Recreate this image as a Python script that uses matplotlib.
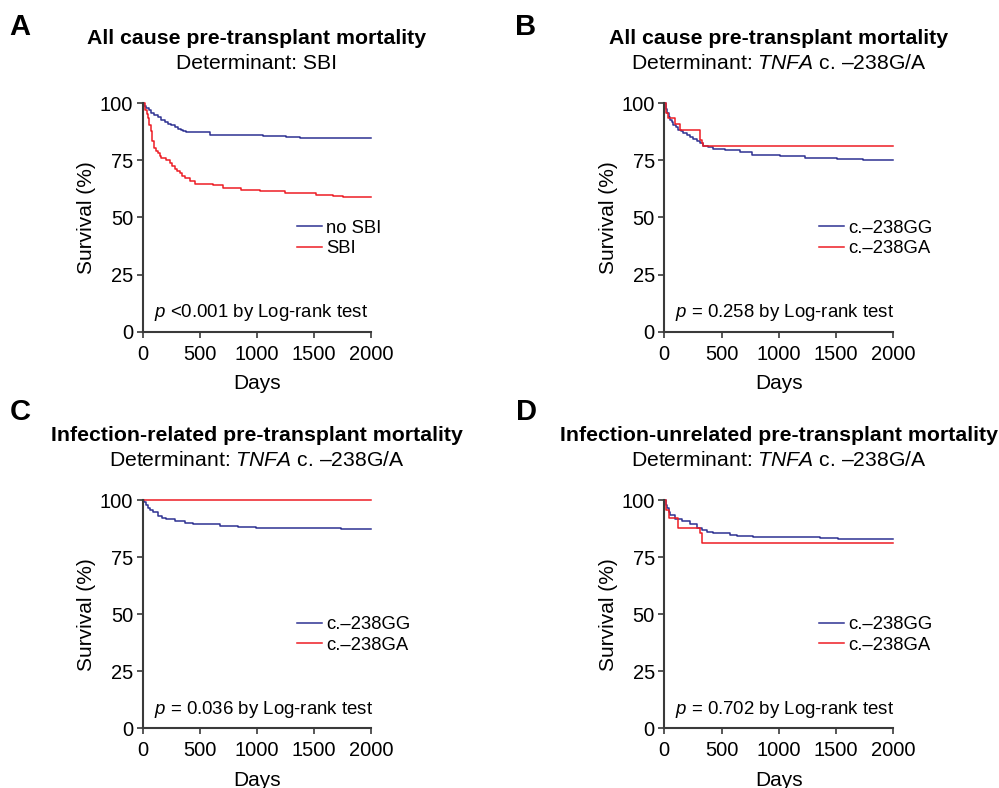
import numpy as np
import matplotlib
matplotlib.use("Agg")
import matplotlib.pyplot as plt

plt.rcParams['font.family'] = ['Liberation Sans', 'DejaVu Sans']
plt.rcParams['mathtext.fontset'] = 'custom'
plt.rcParams['mathtext.rm'] = 'Liberation Sans'
plt.rcParams['mathtext.it'] = 'Liberation Sans:italic'

BLUE = '#2e3192'
RED = '#ed1c24'
AXC = '#3a3a3a'

# --- data (days, survival %) ---
# A: all cause mortality, SBI
a_nosbi_days = [0, 15, 32, 55, 76, 100, 134, 160, 193, 220, 251, 280, 309, 335, 353, 382, 587, 1054, 1258, 1375, 2000]
a_nosbi_surv = [100, 99, 98, 97, 95.8, 95, 93.9, 92.8, 91.8, 91, 90.4, 89.6, 88.9, 88.2, 87.7, 87.3, 86.3, 85.5, 85.1, 84.7, 84.7]
a_sbi_days = [0, 23, 35, 47, 58, 70, 82, 99, 115, 134, 150, 164, 207, 237, 260, 280, 300, 324, 345, 368, 412, 455, 616, 704, 864, 1025, 1244, 1521, 1667, 1755, 2000]
a_sbi_surv = [100, 97, 95.5, 93.6, 90.5, 87.7, 83.4, 80.4, 79.2, 78.2, 77, 76.1, 75.3, 73.9, 72.6, 71.4, 70.5, 69.5, 68.3, 67.3, 66.1, 64.7, 64.1, 62.9, 62.2, 61.5, 60.7, 60.0, 59.6, 58.8, 58.8]

# B: all cause mortality, TNFA c.-238G/A
b_gg_days = [0, 15, 26, 38, 49, 63, 79, 100, 122, 145, 166, 195, 224, 253, 282, 310, 341, 380, 428, 530, 661, 763, 1010, 1229, 1505, 1738, 2000]
b_gg_surv = [100, 97.5, 95.8, 94.2, 92.8, 91.6, 90.7, 89.5, 88.5, 87.7, 87, 86, 85.1, 84.2, 83.4, 82.5, 81.5, 80.8, 80.1, 79.6, 78.7, 77.5, 76.8, 76.1, 75.6, 75.0, 75.0]
b_ga_days = [0, 15, 35, 93, 137, 311, 326, 341, 2000]
b_ga_surv = [100, 95.8, 93.6, 90.9, 88.2, 84.1, 82.6, 81.2, 81.2]

# C: infection-related mortality
c_gg_days = [0, 15, 32, 45, 61, 91, 134, 170, 207, 280, 368, 441, 674, 835, 996, 1635, 1740, 2000]
c_gg_surv = [100, 99, 97.8, 96.6, 95.6, 94.6, 93, 92.2, 91.5, 90.8, 89.8, 89.3, 88.8, 88.3, 87.9, 87.6, 87.3, 87.3]
c_ga_days = [0, 2000]
c_ga_surv = [100, 100]

# D: infection-unrelated mortality
d_gg_days = [0, 15, 26, 38, 49, 93, 151, 224, 282, 326, 370, 428, 574, 632, 777, 1243, 1360, 1520, 2000]
d_gg_surv = [100, 98, 96.4, 94.8, 93.4, 91.7, 90.8, 89.5, 87.9, 86.9, 86.1, 85.4, 84.7, 84.1, 83.8, 83.6, 83.4, 82.8, 82.8]
d_ga_days = [0, 12, 44, 122, 311, 326, 2000]
d_ga_surv = [100, 95.6, 92.0, 87.9, 85.4, 81.0, 81.0]

x_ticks = [0, 500, 1000, 1500, 2000]
y_ticks = [0, 25, 50, 75, 100]

panels = [
    dict(letter='A', title='All cause pre-transplant mortality',
         sub='Determinant: SBI',
         curves=[(a_nosbi_days, a_nosbi_surv, BLUE, 'no SBI'), (a_sbi_days, a_sbi_surv, RED, 'SBI')],
         ptext='$\\it{p}$ <0.001 by Log-rank test', px=0.517),
    dict(letter='B', title='All cause pre-transplant mortality',
         sub='Determinant: $\\it{TNFA}$ c. \u2013238G/A',
         curves=[(b_gg_days, b_gg_surv, BLUE, 'c.\u2013238GG'), (b_ga_days, b_ga_surv, RED, 'c.\u2013238GA')],
         ptext='$\\it{p}$ = 0.258 by Log-rank test', px=0.526),
    dict(letter='C', title='Infection-related pre-transplant mortality',
         sub='Determinant: $\\it{TNFA}$ c. \u2013238G/A',
         curves=[(c_gg_days, c_gg_surv, BLUE, 'c.\u2013238GG'), (c_ga_days, c_ga_surv, RED, 'c.\u2013238GA')],
         ptext='$\\it{p}$ = 0.036 by Log-rank test', px=0.528),
    dict(letter='D', title='Infection-unrelated pre-transplant mortality',
         sub='Determinant: $\\it{TNFA}$ c. \u2013238G/A',
         curves=[(d_gg_days, d_gg_surv, BLUE, 'c.\u2013238GG'), (d_ga_days, d_ga_surv, RED, 'c.\u2013238GA')],
         ptext='$\\it{p}$ = 0.702 by Log-rank test', px=0.526),
]

W, H = 999, 788
fig = plt.figure(figsize=(W / 100, H / 100), dpi=100)

# axes boxes in pixels: left, top, right, bottom
boxes = [(142.7, 103.3, 371.0, 331.7), (664.3, 103.3, 893.3, 331.7),
         (142.7, 500.0, 371.0, 728.3), (664.3, 500.0, 893.3, 728.3)]
letter_pos = [(20, 27), (526, 27), (20, 412), (526, 412)]

for p, box, lp in zip(panels, boxes, letter_pos):
    l, t, r, b = box
    ax = fig.add_axes([l / W, 1 - b / H, (r - l) / W, (b - t) / H])
    for days, surv, col, lab in p['curves']:
        ax.step(days, surv, where='post', color=col, lw=1.1, label=lab, clip_on=False)
    ax.set_xlim(0, 2000)
    ax.set_ylim(0, 100)
    ax.set_xticks(x_ticks)
    ax.set_yticks(y_ticks)
    for s in ['top', 'right']:
        ax.spines[s].set_visible(False)
    for s in ['left', 'bottom']:
        ax.spines[s].set_color(AXC)
        ax.spines[s].set_linewidth(1.5)
    ax.tick_params(direction='out', length=4.3, width=1.2, color=AXC, labelsize=14.5)
    ax.tick_params(axis='x', pad=5)
    ax.tick_params(axis='y', pad=2.5)
    ax.set_xlabel('Days', fontsize=15)
    ax.xaxis.set_label_coords(0.5, -0.185)
    ax.set_ylabel('Survival (%)', fontsize=15)
    ax.yaxis.set_label_coords(-0.203, 0.5)
    ax.legend(loc='upper left', bbox_to_anchor=(0.675, 0.49), frameon=False, fontsize=13.3,
              handlelength=1.35, handletextpad=0.25, labelspacing=0.18, borderpad=0, borderaxespad=0)
    ax.text(p['px'], 0.063, p['ptext'], transform=ax.transAxes, ha='center', va='baseline', fontsize=13.4)
    ax.annotate(p['title'], xy=(0.5, 1), xycoords='axes fraction', xytext=(0, 42.5),
                textcoords='offset points', ha='center', va='baseline', fontsize=15.3, fontweight='bold')
    ax.annotate(p['sub'], xy=(0.5, 1), xycoords='axes fraction', xytext=(0, 24.7),
                textcoords='offset points', ha='center', va='baseline', fontsize=15.2)
    fig.text(lp[0] / W, 1 - lp[1] / H, p['letter'], ha='center', va='center', fontsize=21, fontweight='bold')

fig.savefig('out.png', dpi=100)
